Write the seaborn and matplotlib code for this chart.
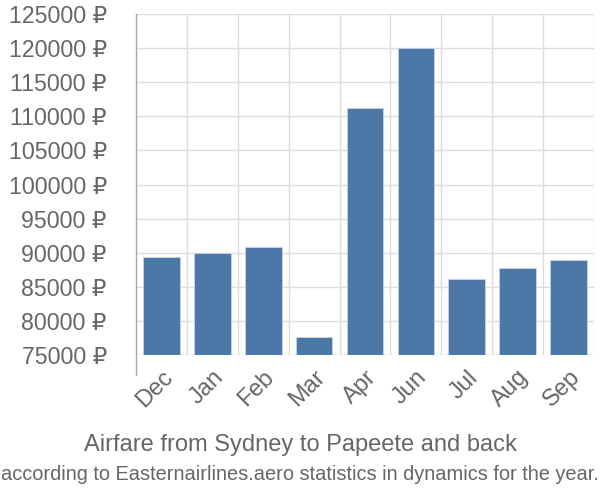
import pandas as pd
import seaborn as sns
import matplotlib.pyplot as plt
from matplotlib.ticker import FuncFormatter

months = ["Dec", "Jan", "Feb", "Mar", "Apr", "Jun", "Jul", "Aug", "Sep"]
prices = [89400, 90000, 90850, 77700, 111200, 120000, 86200, 87700, 88900]
y_ticks = list(range(75000, 125001, 5000))

df = pd.DataFrame({"month": months, "price": prices})

sns.set_style("white")
plt.rcParams['font.family'] = ['Liberation Sans', 'DejaVu Sans']

fig = plt.figure(figsize=(6, 5), dpi=100)
ax = fig.add_axes([0.2267, 0.29, 0.7633, 0.682])

grid_c = "#dddddd"
text_c = "#666666"

# bars start at the lower bound, not zero
sns.barplot(data=df, x="month", y="price", color="#4c78a8", saturation=1,
            width=0.72, bottom=75000, ax=ax, zorder=3,
            edgecolor="#c8d4e3", linewidth=0.6)
for p, v in zip(ax.patches, prices):
    p.set_height(v - 75000)

ax.set_ylim(75000, 125000)
ax.set_xlim(-0.5, len(months) - 0.5)
ax.set_yticks(y_ticks)
ax.yaxis.set_major_formatter(FuncFormatter(lambda v, _: f"{int(v)} ₽"))

# vertical grid lines sit between categories
ax.set_xticks([i - 0.5 for i in range(len(months) + 1)], minor=True)
ax.set_xticks(range(len(months)))
ax.set_xticklabels(months, rotation=45, ha="right", rotation_mode="anchor")
ax.grid(True, axis="y", color=grid_c, linewidth=1, zorder=0)
ax.grid(True, axis="x", which="minor", color=grid_c, linewidth=1, zorder=0)

ax.tick_params(axis="y", length=20, color=grid_c, width=1, labelsize=16.7,
               labelcolor=text_c, pad=1)
ax.tick_params(axis="x", which="major", length=0, labelsize=17,
               labelcolor=text_c, pad=8)
ax.tick_params(axis="x", which="minor", length=20, color=grid_c, width=1)

for s in ["top", "right", "bottom"]:
    ax.spines[s].set_visible(False)
ax.spines["left"].set_color("#aaaaaa")
ax.spines["left"].set_linewidth(1)
ax.spines["left"].set_bounds(75000 - 2900, 125000)
ax.spines["left"].set_clip_on(False)

ax.set_xlabel("")
ax.set_ylabel("")

fig.text(0.5, 0.11, "Airfare from Sydney to Papeete and back", ha="center",
         va="center", fontsize=17, color=text_c)
fig.text(0.5, 0.05, "according to Easternairlines.aero statistics in dynamics for the year.",
         ha="center", va="center", fontsize=14.4, color=text_c)

fig.savefig("out.png", dpi=100)
